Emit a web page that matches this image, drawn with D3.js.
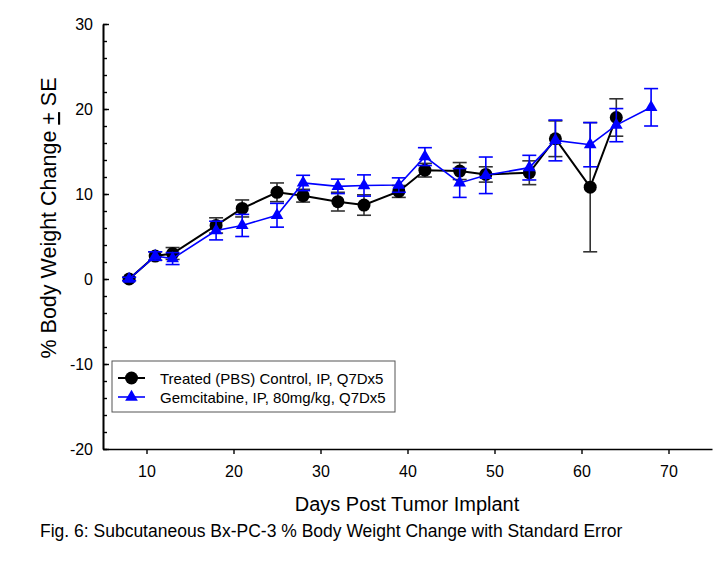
<!DOCTYPE html>
<html>
<head>
<meta charset="utf-8">
<script src="https://cdn.jsdelivr.net/npm/d3@7"></script>
<style>
  html, body { margin: 0; padding: 0; background: #fff; }
  svg { display: block; font-family: "Liberation Sans", Arial, sans-serif; }
</style>
</head>
<body>
<svg id="chart" width="724" height="562"></svg>
<script>
// ---- data ----
const controlDays = [8, 11, 13, 18, 21, 25, 28, 32, 35, 39, 42, 46, 49, 54, 57, 61, 64];
const controlMean = [0, 2.7, 3.0, 6.3, 8.3, 10.2, 9.8, 9.1, 8.7, 10.3, 12.8, 12.7, 12.3, 12.5, 16.5, 10.8, 19.0];
const controlSE   = [0.2, 0.5, 0.7, 0.9, 1.0, 1.1, 0.75, 1.1, 1.2, 0.7, 0.8, 1.0, 0.9, 1.4, 2.1, 7.6, 2.2];

const gemDays = [8, 11, 13, 18, 21, 25, 28, 32, 35, 39, 42, 46, 49, 54, 57, 61, 64, 68];
const gemMean = [0, 2.7, 2.4, 5.7, 6.3, 7.5, 11.3, 10.9, 11.0, 11.05, 14.4, 11.3, 12.2, 13.1, 16.3, 15.8, 18.1, 20.2];
const gemSE   = [0.2, 0.5, 0.7, 1.1, 1.3, 1.4, 0.9, 0.85, 1.25, 0.85, 1.05, 1.7, 2.15, 1.45, 2.4, 2.6, 1.95, 2.2];

const xTickValues = [10, 20, 30, 40, 50, 60, 70];
const yTickValues = [-20, -10, 0, 10, 20, 30];
const yMinorTickValues = d3.range(-20, 31, 2);

const seriesNames = ["Treated (PBS) Control, IP, Q7Dx5", "Gemcitabine, IP, 80mg/kg, Q7Dx5"];
const xTitle = "Days Post Tumor Implant";
const caption = "Fig. 6: Subcutaneous Bx-PC-3 % Body Weight Change with Standard Error";

// ---- layout ----
const svg = d3.select("#chart");
const x = d3.scaleLinear().domain([5, 75]).range([103, 712]);
const y = d3.scaleLinear().domain([-20, 30]).range([449, 24]);

const black = "#000";
const blue = "#0000ff";

// axes
const fmt = d => String(d);
const yMinor = d3.axisLeft(y).tickValues(yMinorTickValues).tickSize(-4).tickSizeOuter(0).tickFormat("");
const yMajor = d3.axisLeft(y).tickValues(yTickValues).tickSize(-6).tickSizeOuter(0).tickPadding(10).tickFormat(fmt);
const xAxis = d3.axisBottom(x).tickValues(xTickValues).tickSize(5).tickSizeOuter(0).tickPadding(12).tickFormat(fmt);

const gy1 = svg.append("g").attr("transform", `translate(${x.range()[0]},0)`).call(yMinor);
const gy2 = svg.append("g").attr("transform", `translate(${x.range()[0]},0)`).call(yMajor);
const gx = svg.append("g").attr("transform", `translate(0,${y.range()[0]})`).call(xAxis);

[gy1, gy2, gx].forEach(g => {
  g.selectAll("path.domain").attr("stroke", "#000").attr("stroke-width", 1.6);
  g.selectAll(".tick line").attr("stroke", "#000").attr("stroke-width", 1.4);
  g.selectAll(".tick text").attr("fill", "#000").style("font-size", "16px")
    .style("font-family", '"Liberation Sans", Arial, sans-serif');
});

// axis titles
svg.append("text")
  .attr("x", 407).attr("y", 511)
  .attr("text-anchor", "middle")
  .style("font-size", "20px")
  .attr("fill", "#000")
  .text(xTitle);

const yl = svg.append("text")
  .attr("transform", "translate(56,218) rotate(-90)")
  .attr("text-anchor", "middle")
  .style("font-size", "21.5px")
  .attr("fill", "#000");
yl.append("tspan").text("% Body Weight Change ");
yl.append("tspan").style("text-decoration", "underline").text("+");
yl.append("tspan").text(" SE");

svg.append("text")
  .attr("x", 40).attr("y", 537)
  .style("font-size", "17.5px")
  .attr("fill", "#000")
  .text(caption);

// ---- series drawing ----
function drawSeries(days, mean, se, color, errColor, lineW, symbol) {
  const g = svg.append("g");
  const pts = days.map((d, i) => ({ d, m: mean[i], s: se[i] }));
  // error bars
  const eb = g.selectAll("g.eb").data(pts).join("g").attr("class", "eb");
  eb.append("line")
    .attr("x1", p => x(p.d)).attr("x2", p => x(p.d))
    .attr("y1", p => y(p.m - p.s)).attr("y2", p => y(p.m + p.s))
    .attr("stroke", errColor).attr("stroke-width", 1.6);
  [-1, 1].forEach(sgn => {
    eb.append("line")
      .attr("x1", p => x(p.d) - 7).attr("x2", p => x(p.d) + 7)
      .attr("y1", p => y(p.m + sgn * p.s)).attr("y2", p => y(p.m + sgn * p.s))
      .attr("stroke", errColor).attr("stroke-width", 1.6);
  });
  // line
  g.append("path")
    .datum(pts)
    .attr("fill", "none")
    .attr("stroke", color)
    .attr("stroke-width", lineW)
    .attr("d", d3.line().x(p => x(p.d)).y(p => y(p.m)));
  // markers
  g.selectAll("path.mk").data(pts).join("path").attr("class", "mk")
    .attr("transform", p => `translate(${x(p.d)},${y(p.m)})`)
    .attr("d", symbol)
    .attr("fill", color);
}

const circleSym = d3.symbol().type(d3.symbolCircle).size(Math.PI * 6.5 * 6.5)();
const triSym = d3.symbol().type(d3.symbolTriangle).size(70)();

drawSeries(controlDays, controlMean, controlSE, black, "#333", 2, circleSym);
drawSeries(gemDays, gemMean, gemSE, blue, blue, 1.6, triSym);

// ---- legend ----
const lg = svg.append("g");
lg.append("rect")
  .attr("x", 112).attr("y", 361).attr("width", 283).attr("height", 51)
  .attr("fill", "#fff").attr("stroke", "#555").attr("stroke-width", 1);
const legendItems = [
  { name: seriesNames[0], color: black, sym: circleSym, w: 2 },
  { name: seriesNames[1], color: blue, sym: triSym, w: 1.6 }
];
legendItems.forEach((it, i) => {
  const yy = 378 + i * 19;
  lg.append("line").attr("x1", 118).attr("x2", 145).attr("y1", yy).attr("y2", yy)
    .attr("stroke", it.color).attr("stroke-width", it.w);
  lg.append("path").attr("transform", `translate(131.5,${yy})`).attr("d", it.sym).attr("fill", it.color);
  lg.append("text").attr("x", 160).attr("y", yy + 5.5)
    .style("font-size", "15px").attr("fill", "#000").text(it.name);
});
</script>
</body>
</html>
